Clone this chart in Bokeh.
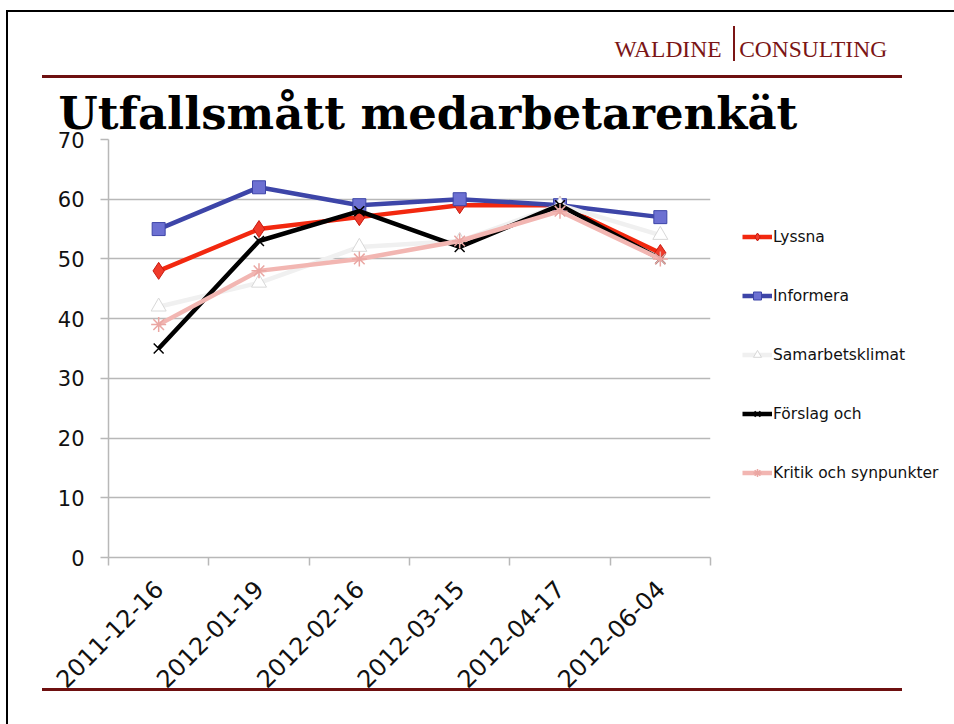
from bokeh.plotting import figure
from bokeh.models import (ColumnDataSource, Legend, LegendItem, Title, FixedTicker, Range1d)
from bokeh.embed import file_html
from bokeh.resources import INLINE

dates = ["2011-12-16", "2012-01-19", "2012-02-16", "2012-03-15", "2012-04-17", "2012-06-04"]
lyssna = [48, 55, 57, 59, 59, 51]
informera = [55, 62, 59, 60, 59, 57]
samarbetsklimat = [42, 46, 52, 53, 59, 54]
forslag = [35, 53, 58, 52, 59, 50]
kritik = [39, 48, 50, 53, 58, 50]
y_ticks = [0, 10, 20, 30, 40, 50, 60, 70]

W, H = 954, 724
FL, FR, FT, FB = 108, 710, 139, 557  # frame edges in canvas px

# slide decorations (thin rules) drawn as CSS backgrounds behind the transparent canvas
rules = [  # (left, top, width, height, colour)
    (6, 10, 948, 2, "#000000"),
    (6, 10, 2, 714, "#000000"),
    (42, 75, 860, 3, "#6e1010"),
    (42, 688, 860, 3, "#6e1010"),
    (733, 26, 2, 35, "#7b1515"),
]
css = {
    "background-color": "white",
    "background-image": ", ".join(f"linear-gradient({c}, {c})" for *_, c in rules),
    "background-position": ", ".join(f"{l}px {t}px" for l, t, *_ in rules),
    "background-size": ", ".join(f"{w}px {h}px" for _, _, w, h, _ in rules),
    "background-repeat": "no-repeat",
}

p = figure(frame_width=FR - FL, frame_height=FB - FT, output_backend="svg", toolbar_location=None,
           title=None, min_border_left=FL, min_border_right=W - FR, min_border_top=FT,
           min_border_bottom=H - FB, x_range=Range1d(0, len(dates)), y_range=Range1d(0, 70),
           styles=css)
p.outline_line_color = None
p.background_fill_color = "white"
p.border_fill_alpha = 0

xs = [i + 0.5 for i in range(len(dates))]

series = [
    ("Lyssna", lyssna, "#f2280f", "diamond", "#f03a2a", "#c81a10", 17),
    ("Informera", informera, "#3d45a8", "square", "#6c70d2", "#3d45a8", 13),
    ("Samarbetsklimat", samarbetsklimat, "#f0f0f0", "triangle", "#ffffff", "#d8d8d8", 15),
    ("Förslag och", forslag, "#000000", "x", "#000000", "#000000", 14),
    ("Kritik och synpunkter", kritik, "#f2b6b2", "asterisk", "#eaa6a2", "#eaa6a2", 15),
]

items = []
for name, vals, col, mk, fill, edge, size in series:
    src = ColumnDataSource(dict(x=xs, y=vals))
    r1 = p.line("x", "y", source=src, line_color=col, line_width=4.5, line_join="round")
    r2 = p.scatter("x", "y", source=src, marker=mk, size=size, fill_color=fill,
                   line_color=edge, line_width=1.5 if mk in ("x", "asterisk") else 1)
    items.append(LegendItem(label=name, renderers=[r1, r2]))

# axes
p.xgrid.visible = False
p.ygrid.grid_line_color = "#b8b8b8"
p.ygrid.grid_line_width = 1.5
p.ygrid.ticker = FixedTicker(ticks=y_ticks)

yax = p.yaxis[0]
yax.ticker = FixedTicker(ticks=y_ticks)
yax.axis_line_color = "#b8b8b8"
yax.axis_line_width = 1.5
yax.major_tick_line_color = "#b8b8b8"
yax.major_tick_line_width = 1.5
yax.major_tick_out = 8
yax.major_tick_in = 0
yax.minor_tick_line_color = None
yax.major_label_standoff = 16
yax.major_label_text_font = "DejaVu Sans"
yax.major_label_text_font_size = "21px"
yax.major_label_text_color = "#111111"

xax = p.xaxis[0]
xax.ticker = FixedTicker(ticks=xs, minor_ticks=list(range(len(dates) + 1)))
xax.major_label_overrides = {x: d for x, d in zip(xs, dates)}
xax.axis_line_color = "#b8b8b8"
xax.axis_line_width = 1.5
xax.major_tick_line_color = None
xax.major_tick_out = 0
xax.major_tick_in = 0
xax.minor_tick_line_color = "#b8b8b8"
xax.minor_tick_line_width = 1.5
xax.minor_tick_out = 8
xax.minor_tick_in = 0
xax.major_label_orientation = 0.785398
xax.major_label_standoff = 19
xax.major_label_text_font = "DejaVu Sans"
xax.major_label_text_font_size = "24px"
xax.major_label_text_color = "#111111"

legend = Legend(items=items, location="left", orientation="vertical",
                title=" ", title_text_font_size="11px", title_standoff=1,
                glyph_width=30, glyph_height=20, label_height=20, spacing=39,
                label_standoff=1, padding=0, margin=32, border_line_color=None,
                background_fill_alpha=0, label_text_font="DejaVu Sans",
                label_text_font_size="15.5px", label_text_color="#111111")
p.add_layout(legend, "right")

# slide title (nearest to frame) and company header above it
p.add_layout(Title(text="Utfallsmått medarbetarenkät", align="left", offset=-50,
                   text_font="DejaVu Serif", text_font_style="bold", text_font_size="45px",
                   text_color="#000000", standoff=0), "above")
p.add_layout(Title(text="WALDINE\u00a0\u00a0\u00a0CONSULTING", align="left", offset=506,
                   text_font="Liberation Serif", text_font_style="normal", text_font_size="23.5px",
                   text_color="#7b1515", standoff=46), "above")

open("out.html", "w").write(file_html(p, INLINE))
